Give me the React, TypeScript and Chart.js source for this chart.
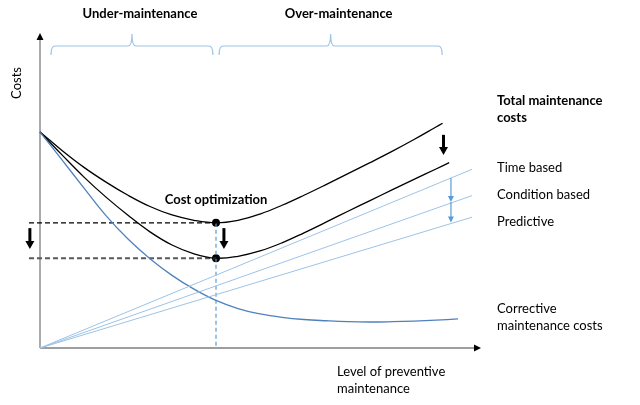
import React, { useEffect, useRef } from "react";
import { Chart, registerables } from "chart.js";
Chart.register(...registerables);

// Level of preventive maintenance (0..100) vs costs (0..100)
const correctiveX = [0, 5, 10, 15, 20, 25, 30, 35, 40, 45, 50, 55, 60, 65, 70, 75, 80, 85, 90, 95];
const correctiveY = [69, 60.1, 51.1, 42.3, 34.8, 28.5, 23.2, 18.8, 15.2, 12.6, 10.9, 9.8, 9.1, 8.7, 8.4, 8.3, 8.4, 8.6, 8.9, 9.3];
const totalTimeX = [0, 5, 10, 15, 20, 25, 30, 35, 40, 45, 50, 55, 60, 65, 70, 75, 80, 85, 90, 91.5];
const totalTimeY = [69, 63.1, 57.7, 53.0, 48.8, 45.2, 42.5, 40.8, 40.0, 40.8, 42.8, 45.6, 48.8, 52.2, 55.7, 59.2, 62.8, 66.6, 70.6, 71.8];
const totalPredX = [0, 5, 10, 15, 20, 25, 30, 35, 40, 45, 50, 55, 60, 65, 70, 75, 80, 85, 90, 93];
const totalPredY = [69, 61.7, 54.6, 48.2, 42.4, 37.1, 32.9, 30.1, 28.7, 29.3, 31.0, 33.6, 36.8, 40.2, 43.7, 47.1, 50.5, 53.9, 57.2, 59.2];
const preventiveEndX = 98.2;
const timeBasedEnd = 57.1;
const conditionBasedEnd = 48.7;
const predictiveEnd = 41.8;
const optimumX = 40;
const optimumHigh = 40;
const optimumLow = 28.7;
const dashStartX = -2.5;
const dropArrows = [
  { x: -2.3, from: 38.3, to: 31.6 },
  { x: 41.8, from: 38.3, to: 31.6 },
  { x: 91.7, from: 68.1, to: 61.7 },
];
const blueArrowX = 93.4;
const braces = [
  { from: 2.5, to: 39.3, label: "Under-maintenance" },
  { from: 40.7, to: 91.4, label: "Over-maintenance" },
];

const pts = (xs: number[], ys: number[]) => xs.map((x, i) => ({ x, y: ys[i] }));
const line = (end: number) => [
  { x: 0, y: 0 },
  { x: preventiveEndX, y: end },
];

const FONT = "Lato, 'Liberation Sans', sans-serif";

function arrowDown(ctx: CanvasRenderingContext2D, x: number, y1: number, y2: number, color: string, w: number, hw: number, hl: number) {
  ctx.save();
  ctx.strokeStyle = color;
  ctx.fillStyle = color;
  ctx.lineWidth = w;
  ctx.beginPath();
  ctx.moveTo(x, y1);
  ctx.lineTo(x, y2 - hl + 1);
  ctx.stroke();
  ctx.beginPath();
  ctx.moveTo(x - hw / 2, y2 - hl);
  ctx.lineTo(x + hw / 2, y2 - hl);
  ctx.lineTo(x, y2);
  ctx.closePath();
  ctx.fill();
  ctx.restore();
}

const overlay = {
  id: "overlay",
  beforeDatasetsDraw(chart: any) {
    const ctx: CanvasRenderingContext2D = chart.ctx;
    const xs = chart.scales.x;
    const ys = chart.scales.y;
    const x0 = xs.getPixelForValue(0);
    const y0 = ys.getPixelForValue(0);
    const yTop = ys.getPixelForValue(100);
    const xEnd = xs.getPixelForValue(100);
    ctx.save();
    ctx.strokeStyle = "#7f7f7f";
    ctx.lineWidth = 1.3;
    ctx.beginPath();
    ctx.moveTo(x0, y0);
    ctx.lineTo(x0, yTop + 4);
    ctx.moveTo(x0, y0);
    ctx.lineTo(xEnd - 5, y0);
    ctx.stroke();
    ctx.fillStyle = "#000";
    ctx.beginPath();
    ctx.moveTo(x0 - 3.5, yTop + 5);
    ctx.lineTo(x0 + 3.5, yTop + 5);
    ctx.lineTo(x0, yTop - 2);
    ctx.closePath();
    ctx.fill();
    ctx.beginPath();
    ctx.moveTo(xEnd - 6, y0 - 3.5);
    ctx.lineTo(xEnd - 6, y0 + 3.5);
    ctx.lineTo(xEnd + 1, y0);
    ctx.closePath();
    ctx.fill();
    ctx.restore();
  },
  afterDatasetsDraw(chart: any) {
    const ctx: CanvasRenderingContext2D = chart.ctx;
    const xs = chart.scales.x;
    const ys = chart.scales.y;
    const px = (v: number) => xs.getPixelForValue(v);
    const py = (v: number) => ys.getPixelForValue(v);

    // black drop arrows
    dropArrows.forEach((a) => arrowDown(ctx, px(a.x), py(a.from), py(a.to), "#000", 3, 9, 8));

    // blue arrows between preventive lines
    const f = blueArrowX / preventiveEndX;
    const yT = py(timeBasedEnd * f);
    const yC = py(conditionBasedEnd * f);
    const yP = py(predictiveEnd * f);
    arrowDown(ctx, px(blueArrowX), yT, yC - 1, "#5b9bd5", 1.2, 6, 6);
    arrowDown(ctx, px(blueArrowX), yC - 1, yP - 1, "#5b9bd5", 1.2, 6, 6);

    // braces
    ctx.save();
    ctx.strokeStyle = "#9dc3e6";
    ctx.lineWidth = 1.2;
    const yEnd = py(100) + 20;
    const yLine = py(100) + 11;
    const yTip = py(100) - 1;
    braces.forEach((b) => {
      const a = px(b.from);
      const c = px(b.to);
      const m = (a + c) / 2;
      ctx.beginPath();
      ctx.moveTo(a, yEnd);
      ctx.quadraticCurveTo(a, yLine, a + 4, yLine);
      ctx.lineTo(m - 4, yLine);
      ctx.quadraticCurveTo(m, yLine, m, yTip);
      ctx.quadraticCurveTo(m, yLine, m + 4, yLine);
      ctx.lineTo(c - 4, yLine);
      ctx.quadraticCurveTo(c, yLine, c, yEnd);
      ctx.stroke();
      ctx.fillStyle = "#000";
      ctx.font = `bold 13px ${FONT}`;
      ctx.textAlign = "center";
      ctx.textBaseline = "middle";
      ctx.fillText(b.label, m + 8, 14);
    });
    ctx.restore();

    // texts
    ctx.save();
    ctx.fillStyle = "#000";
    ctx.textBaseline = "middle";
    ctx.textAlign = "left";
    ctx.font = `bold 13px ${FONT}`;
    ctx.fillText("Total maintenance", 497, 101);
    ctx.fillText("costs", 497, 118);
    ctx.textAlign = "center";
    ctx.fillText("Cost optimization", px(optimumX), 200);
    ctx.textAlign = "left";
    ctx.font = `13px ${FONT}`;
    ctx.fillText("Time based", 497, 168);
    ctx.fillText("Condition based", 497, 195);
    ctx.fillText("Predictive", 497, 222);
    ctx.fillText("Corrective", 497, 309);
    ctx.fillText("maintenance costs", 497, 326);
    ctx.fillText("Level of preventive", 337, 372);
    ctx.fillText("maintenance", 337, 389);
    ctx.translate(17, 83);
    ctx.rotate(-Math.PI / 2);
    ctx.textAlign = "center";
    ctx.fillText("Costs", 0, 0);
    ctx.restore();
  },
};

export default function App() {
  const ref = useRef<HTMLCanvasElement>(null);
  useEffect(() => {
    if (!ref.current) return;
    const base = { showLine: true, pointRadius: 0, fill: false, clip: false as any };
    const chart = new Chart(ref.current, {
      type: "scatter",
      data: {
        datasets: [
          { ...base, label: "Time based", data: line(timeBasedEnd), borderColor: "#9dc3e6", borderWidth: 1 },
          { ...base, label: "Condition based", data: line(conditionBasedEnd), borderColor: "#9dc3e6", borderWidth: 1 },
          { ...base, label: "Predictive", data: line(predictiveEnd), borderColor: "#9dc3e6", borderWidth: 1 },
          { ...base, label: "Corrective", data: pts(correctiveX, correctiveY), borderColor: "#4f81bd", borderWidth: 1.3, tension: 0.4 },
          { ...base, label: "Total (time based)", data: pts(totalTimeX, totalTimeY), borderColor: "#000", borderWidth: 1.3, tension: 0.4 },
          { ...base, label: "Total (predictive)", data: pts(totalPredX, totalPredY), borderColor: "#000", borderWidth: 1.3, tension: 0.4 },
          { ...base, label: "opt high", data: [{ x: dashStartX, y: optimumHigh }, { x: optimumX, y: optimumHigh }], borderColor: "#000", borderWidth: 1.3, borderDash: [5, 3] },
          { ...base, label: "opt low", data: [{ x: dashStartX, y: optimumLow }, { x: optimumX, y: optimumLow }], borderColor: "#595959", borderWidth: 2, borderDash: [5, 3] },
          { ...base, label: "opt x", data: [{ x: optimumX, y: optimumHigh }, { x: optimumX, y: 0 }], borderColor: "#5b9bd5", borderWidth: 1.2, borderDash: [4, 3] },
          { label: "optima", data: [{ x: optimumX, y: optimumHigh }, { x: optimumX, y: optimumLow }], showLine: false, pointRadius: 4, pointBackgroundColor: "#000", pointBorderColor: "#000", borderWidth: 0, clip: false as any },
        ],
      },
      options: {
        animation: false,
        responsive: false,
        layout: { padding: { left: 40, right: 160, top: 35, bottom: 57 } },
        scales: {
          x: { type: "linear", min: 0, max: 100, display: false },
          y: { type: "linear", min: 0, max: 100, display: false },
        },
        plugins: { legend: { display: false }, tooltip: { enabled: false } },
        events: [],
      },
      plugins: [overlay],
    });
    return () => chart.destroy();
  }, []);
  return (
    <div style={{ position: "fixed", left: 0, top: 0, width: 640, height: 405, background: "#fff" }}>
      <canvas ref={ref} width={640} height={405} style={{ width: 640, height: 405 }} />
    </div>
  );
}
